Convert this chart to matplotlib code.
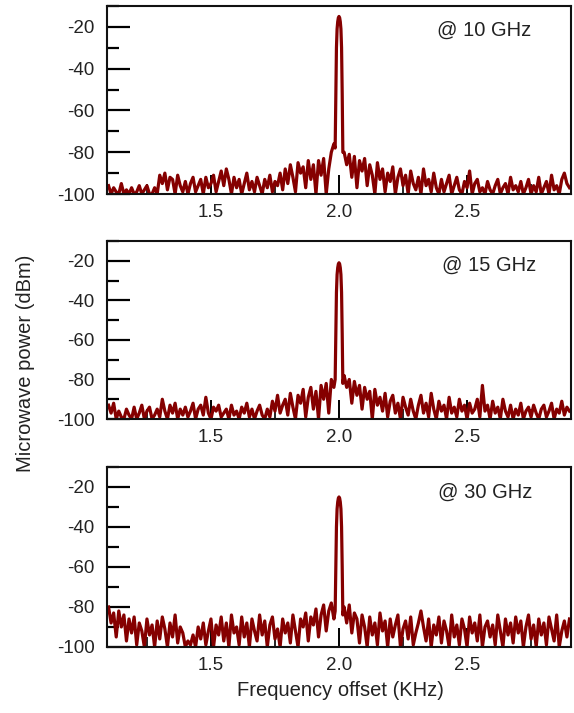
"""Microwave beat-note spectra at three carrier frequencies (stacked panels)."""

import numpy as np
import matplotlib

matplotlib.use("Agg")
import matplotlib.pyplot as plt
from matplotlib.ticker import MultipleLocator

plt.rcParams["font.family"] = ["Liberation Sans", "DejaVu Sans"]

# noise floor sampled every 0.01 KHz from 1.10 to 2.90 KHz (nan = covered by peak)
FREQ_START = 1.10
FREQ_STEP = 0.01

noise_10ghz = [
    -96, -100, -97, -99, -100, -95, -100, -98, -100, -97,
    -100, -99, -96, -100, -98, -96, -100, -100, -97, -100,
    -91, -95, -90, -98, -92, -93, -100, -91, -96, -99,
    -94, -100, -95, -92, -99, -96, -93, -100, -92, -97,
    -95, -91, -99, -94, -89, -96, -88, -93, -100, -92,
    -97, -93, -100, -95, -90, -98, -94, -99, -92, -96,
    -100, -93, -97, -91, -99, -94, -96, -90, -98, -88,
    -95, -86, -92, -99, -85, -90, -87, -97, -84, -93,
    -86, -100, -84, -91, -83, -100, -88, -80, -76, np.nan,
    np.nan, np.nan, -80, -86, -81, -92, -82, -97, -84, -89,
    -83, -96, -86, -91, -100, -85, -93, -88, -99, -90,
    -94, -87, -100, -92, -88, -96, -91, -100, -89, -95,
    -98, -92, -100, -88, -96, -93, -99, -90, -97, -100,
    -93, -99, -95, -91, -100, -96, -92, -98, -100, -94,
    -97, -89, -100, -95, -93, -99, -97, -100, -94, -98,
    -100, -96, -93, -100, -97, -95, -100, -92, -98, -96,
    -99, -94, -100, -97, -93, -100, -96, -99, -92, -100,
    -97, -94, -100, -91, -98, -96, -100, -93, -90, -95,
    -97,
]

noise_15ghz = [
    -93, -97, -92, -100, -96, -99, -100, -95, -98, -100,
    -94, -100, -97, -93, -100, -96, -94, -100, -98, -95,
    -99, -90, -96, -100, -93, -97, -92, -100, -95, -98,
    -94, -99, -96, -92, -100, -95, -93, -98, -89, -97,
    -100, -94, -96, -93, -99, -97, -95, -100, -93, -98,
    -96, -100, -94, -97, -92, -99, -95, -100, -96, -93,
    -98, -100, -95, -99, -91, -96, -88, -97, -93, -90,
    -98, -87, -94, -100, -88, -92, -85, -99, -89, -84,
    -95, -86, -100, -83, -90, -82, -97, -80, -84, np.nan,
    np.nan, np.nan, -78, -84, -80, -92, -81, -88, -83, -95,
    -84, -90, -86, -100, -85, -93, -89, -96, -87, -99,
    -91, -88, -97, -92, -100, -89, -94, -98, -90, -96,
    -100, -93, -88, -97, -92, -99, -87, -95, -100, -91,
    -96, -93, -100, -89, -97, -94, -99, -90, -96, -93,
    -100, -92, -97, -95, -90, -99, -83, -96, -93, -100,
    -91, -97, -94, -100, -90, -96, -99, -93, -100, -95,
    -98, -92, -100, -96, -94, -99, -93, -97, -100, -95,
    -93, -99, -96, -92, -100, -95, -97, -91, -98, -94,
    -96,
]

noise_30ghz = [
    -80, -88, -83, -95, -82, -90, -84, -97, -86, -93,
    -85, -99, -88, -92, -100, -86, -94, -89, -100, -87,
    -96, -85, -91, -100, -88, -95, -84, -98, -90, -93,
    -100, -97, -99, -94, -100, -90, -96, -88, -99, -92,
    -86, -100, -89, -94, -85, -97, -88, -100, -84, -93,
    -90, -99, -85, -95, -88, -100, -86, -92, -97, -84,
    -94, -87, -100, -89, -85, -96, -91, -100, -86, -93,
    -88, -98, -84, -92, -100, -86, -90, -83, -97, -85,
    -89, -81, -95, -84, -79, -92, -82, -78, -86, np.nan,
    np.nan, np.nan, -80, -88, -79, -93, -83, -86, -98, -84,
    -90, -100, -85, -94, -88, -99, -83, -92, -87, -100,
    -86, -95, -89, -84, -100, -91, -87, -96, -85, -99,
    -93, -88, -82, -90, -97, -86, -100, -89, -94, -85,
    -98, -87, -92, -100, -84, -95, -89, -99, -86, -91,
    -100, -85, -93, -88, -97, -84, -100, -90, -87, -95,
    -89, -99, -84, -92, -100, -86, -94, -88, -98, -85,
    -93, -87, -100, -90, -84, -96, -89, -100, -86, -94,
    -88, -99, -85, -91, -97, -84, -100, -92, -87, -95,
    -86,
]

# carrier peak, finer sampling around 2.0 KHz
peak_freq = [1.985, 1.9875, 1.99, 1.9925, 1.995, 1.9975, 2.0,
             2.0025, 2.005, 2.0075, 2.01, 2.0125, 2.015]
peak_10ghz = [-78, -52, -30, -21, -17.5, -15.6, -15, -15.6, -17.5, -21, -30, -52, -80]
peak_15ghz = [-80, -57, -36, -27, -23.5, -21.6, -21, -21.6, -23.5, -27, -36, -57, -82]
peak_30ghz = [-82, -60, -40, -31, -27.5, -25.6, -25, -25.6, -27.5, -31, -40, -60, -84]

labels = ["@ 10 GHz", "@ 15 GHz", "@ 30 GHz"]
LINE_COLOR = "#850000"
TEXT_COLOR = "#222222"


def build_trace(noise, peak):
    noise = np.asarray(noise, dtype=float)
    freq = FREQ_START + FREQ_STEP * np.arange(noise.size)
    keep = ~np.isnan(noise)
    f = np.concatenate([freq[keep], peak_freq])
    p = np.concatenate([noise[keep], peak])
    order = np.argsort(f)
    return f[order], p[order]


fig = plt.figure(figsize=(5.74, 7.13), dpi=100)
# axes rectangles in figure fractions (left, bottom, width, height)
rects = [
    (0.1864, 0.7279, 0.8084, 0.2637),
    (0.1864, 0.4123, 0.8084, 0.2497),
    (0.1864, 0.0926, 0.8084, 0.2525),
]
label_pos = [(0.711, 0.872), (0.722, 0.865), (0.713, 0.861)]

for rect, noise, peak, lab, lp in zip(
    rects,
    [noise_10ghz, noise_15ghz, noise_30ghz],
    [peak_10ghz, peak_15ghz, peak_30ghz],
    labels,
    label_pos,
):
    ax = fig.add_axes(rect)
    f, p = build_trace(noise, peak)
    ax.plot(f, p, color=LINE_COLOR, lw=2.3, solid_joinstyle="round")
    ax.set_xlim(1.094, 2.906)
    ax.set_ylim(-100, -10)

    ax.xaxis.set_minor_locator(MultipleLocator(0.25))
    ax.yaxis.set_minor_locator(MultipleLocator(10))
    ax.set_xticks([1.5, 2.0, 2.5])
    ax.set_xticklabels(["1.5", "2.0", "2.5"])
    ax.set_yticks([-100, -80, -60, -40, -20])
    ax.set_yticklabels(["-100", "-80", "-60", "-40", "-20"])

    ax.tick_params(axis="y", which="major", direction="in", length=16.5, width=1.6,
                   labelsize=13.5, pad=9, labelcolor=TEXT_COLOR)
    ax.tick_params(axis="y", which="minor", direction="in", length=8.5, width=1.6)
    ax.tick_params(axis="x", which="major", direction="in", length=14, width=1.4,
                   labelsize=13.5, pad=7, labelcolor=TEXT_COLOR)
    ax.tick_params(axis="x", which="minor", direction="in", length=7, width=1.2)
    for sp in ax.spines.values():
        sp.set_linewidth(1.5)
        sp.set_color("#111111")

    ax.text(lp[0], lp[1], lab, transform=ax.transAxes, fontsize=14.5,
            ha="left", va="center", color=TEXT_COLOR)

fig.text(0.044, 0.49, "Microwave power (dBm)", rotation=90, fontsize=14.5,
         ha="center", va="center", color=TEXT_COLOR)
fig.text(0.593, 0.032, "Frequency offset (KHz)", fontsize=14.5,
         ha="center", va="center", color=TEXT_COLOR)

fig.savefig("out.png", dpi=100)
